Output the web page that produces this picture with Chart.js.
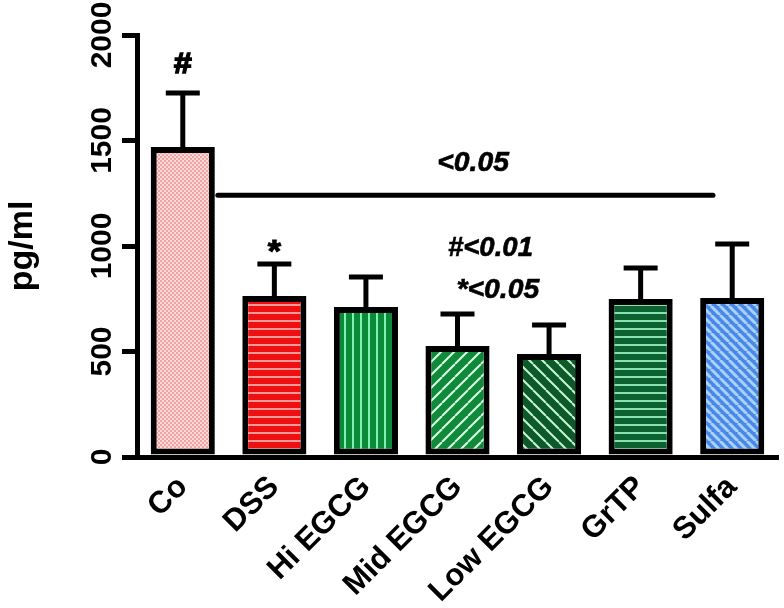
<!DOCTYPE html>
<html>
<head>
<meta charset="utf-8">
<script src="https://cdn.jsdelivr.net/npm/chart.js@4.4.1/dist/chart.umd.min.js"></script>
<style>
html,body{margin:0;padding:0;background:#fff;}
#wrap{width:784px;height:608px;position:relative;}
</style>
</head>
<body>
<div id="wrap"><canvas id="c" width="784" height="608"></canvas></div>
<script>
// ---- data ----
const categories = ["Co", "DSS", "Hi EGCG", "Mid EGCG", "Low EGCG", "GrTP", "Sulfa"];
const meanValues = [1469, 763, 711, 526, 488, 749, 754];
const errorValues = [256, 152, 142, 152, 138, 147, 255];
const yTicks = [0, 500, 1000, 1500, 2000];
const yTitle = "pg/ml";

// ---- patterns ----
function tile(w, h, draw) {
  const c = document.createElement('canvas');
  c.width = w; c.height = h;
  const g = c.getContext('2d');
  draw(g, w, h);
  return document.getElementById('c').getContext('2d').createPattern(c, 'repeat');
}
function checker(bg, fg) {
  return tile(4, 4, (g) => {
    g.fillStyle = bg; g.fillRect(0, 0, 4, 4);
    g.fillStyle = fg; g.fillRect(0, 0, 2, 2); g.fillRect(2, 2, 2, 2);
  });
}
function hlines(bg, fg, p, lw) {
  return tile(p, p, (g) => {
    g.fillStyle = bg; g.fillRect(0, 0, p, p);
    g.fillStyle = fg; g.fillRect(0, 0, p, lw);
  });
}
function vlines(bg, fg, p, lw) {
  return tile(p, p, (g) => {
    g.fillStyle = bg; g.fillRect(0, 0, p, p);
    g.fillStyle = fg; g.fillRect(0, 0, lw, p);
  });
}
function diag(bg, fg, s, lw, forward) {
  return tile(s, s, (g) => {
    g.fillStyle = bg; g.fillRect(0, 0, s, s);
    g.strokeStyle = fg; g.lineWidth = lw;
    g.beginPath();
    for (let k = -1; k <= 1; k++) {
      if (forward) { g.moveTo(k * s, s); g.lineTo(k * s + s, 0); }
      else { g.moveTo(k * s, 0); g.lineTo(k * s + s, s); }
    }
    g.stroke();
  });
}
const fills = [
  checker('#fbdada', '#f3a2a2'),
  hlines('#ee1010', '#ff9a9a', 8, 2),
  vlines('#0b8a38', '#80f0b4', 8, 2),
  diag('#11893a', '#d8ffe6', 13, 2, true),
  diag('#0b5a28', '#c8f4d8', 13, 2, false),
  hlines('#0d6230', '#86e2b6', 8, 2),
  diag('#4a88e8', '#aad2ff', 9, 3, false)
];

const FONT = '"Liberation Sans", Arial, sans-serif';

// ---- plugins ----
const errorBars = {
  id: 'errorBars',
  afterDatasetsDraw(chart) {
    const meta = chart.getDatasetMeta(0);
    const ys = chart.scales.y;
    const ctx = chart.ctx;
    ctx.save();
    ctx.strokeStyle = '#000';
    ctx.lineWidth = 5;
    meta.data.forEach((el, i) => {
      const top = ys.getPixelForValue(meanValues[i] + errorValues[i]);
      ctx.beginPath();
      ctx.moveTo(el.x, el.y);
      ctx.lineTo(el.x, top);
      ctx.moveTo(el.x - 17, top);
      ctx.lineTo(el.x + 17, top);
      ctx.stroke();
    });
    ctx.restore();
  }
};
const annotations = {
  id: 'annotations',
  afterDraw(chart) {
    const xs = chart.scales.x, ys = chart.scales.y, ctx = chart.ctx;
    const meta = chart.getDatasetMeta(0);
    ctx.save();
    const co = meta.data[0];
    const ly = ys.getPixelForValue(1241);
    ctx.strokeStyle = '#000';
    ctx.lineWidth = 5;
    ctx.lineCap = 'round';
    ctx.beginPath();
    ctx.moveTo(co.x + co.width / 2 + 3, ly);
    ctx.lineTo(xs.getPixelForValue(5.79), ly);
    ctx.stroke();
    ctx.fillStyle = '#000';
    ctx.strokeStyle = '#000';
    ctx.textAlign = 'center';
    ctx.textBaseline = 'middle';
    const put = (txt, xi, v, font, sx, bolden) => {
      ctx.save();
      ctx.translate(xs.getPixelForValue(xi), ys.getPixelForValue(v));
      ctx.scale(sx, 1);
      ctx.font = font;
      ctx.fillText(txt, 0, 0);
      if (bolden) { ctx.lineWidth = bolden; ctx.strokeText(txt, 0, 0); }
      ctx.restore();
    };
    put('#', 0, 1860, 'bold 29px ' + FONT, 1.1, 1.5);
    put('*', 1, 965, 'bold 31px ' + FONT, 1.1, 1);
    put('<0.05', 3.17, 1393, 'italic bold 27px ' + FONT, 1.05, 0.6);
    put('#<0.01', 3.36, 990, 'italic bold 27px ' + FONT, 1.02, 0.6);
    put('*<0.05', 3.44, 791, 'italic bold 27px ' + FONT, 1.05, 0.6);
    ctx.restore();
  }
};

new Chart(document.getElementById('c'), {
  type: 'bar',
  data: {
    labels: categories,
    datasets: [{
      data: meanValues,
      backgroundColor: fills,
      borderColor: '#000',
      borderWidth: 6,
      borderSkipped: false,
      categoryPercentage: 1.0,
      barPercentage: 0.70
    }]
  },
  options: {
    responsive: false,
    animation: false,
    devicePixelRatio: 1,
    layout: { padding: { left: 0, right: 6, top: 35, bottom: 0 } },
    plugins: { legend: { display: false }, tooltip: { enabled: false } },
    scales: {
      x: {
        grid: { display: false },
        border: { display: true, color: '#000', width: 5 },
        ticks: {
          color: '#000',
          minRotation: 45, maxRotation: 45,
          padding: 4,
          autoSkip: false,
          font: { family: FONT, size: 31, weight: 'bold' }
        },
        afterFit(s) { s.height = 151; }
      },
      y: {
        min: 0, max: 2000,
        afterBuildTicks(s) { s.ticks = yTicks.map(v => ({ value: v })); },
        grid: { drawOnChartArea: false, drawTicks: true, tickLength: 15, tickWidth: 5, tickColor: '#000', color: '#000', lineWidth: 5 },
        border: { display: true, color: '#000', width: 5 },
        ticks: {
          color: '#000',
          minRotation: 90, maxRotation: 90,
          crossAlign: 'center',
          padding: -14,
          callback: (v) => String(v),
          font: { family: FONT, size: 30, weight: 'bold' }
        },
        title: {
          display: true, text: yTitle, color: '#000',
          padding: { top: 2, bottom: 0 },
          font: { family: FONT, size: 34, weight: 'bold' }
        },
        afterFit(s) { s.width = 137; }
      }
    }
  },
  plugins: [errorBars, annotations]
});
</script>
</body>
</html>
